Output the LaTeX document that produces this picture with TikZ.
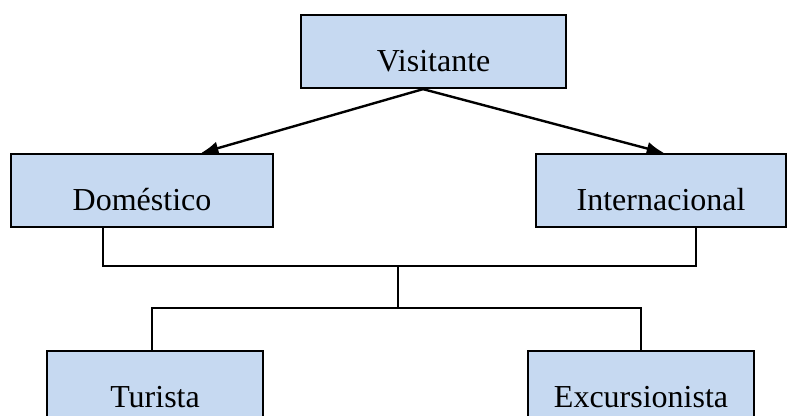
\documentclass[tikz,border=0pt]{standalone}
\usepackage{fontspec}
\setmainfont{Liberation Serif}
\usepackage{tikz}
\usetikzlibrary{positioning,arrows.meta}

\begin{document}
\begin{tikzpicture}[x=0.75pt, y=-0.75pt,
				squarenode/.style={rectangle, draw=black, fill=blueA, line width=1.6pt, inner sep=0pt, anchor=north west, text height=42pt, text depth=12.75pt, font=\fontsize{24}{28}\selectfont},
				link/.style={line width=1.1pt},
				arrowlink/.style={line width=1.8pt, -{Latex[length=13pt, width=10pt]}},
				]
				\definecolor{blueA}{HTML}{C6D9F1}
				\useasboundingbox (0,0) rectangle (788,416);

				%Nodes
				\node[squarenode, minimum width=198.75pt]	(vis)	at (300,14)		{Visitante};
				\node[squarenode, minimum width=196.5pt]	(dom)	at (10,153)		{Doméstico};
				\node[squarenode, minimum width=187.5pt]	(inter)	at (535,153)	{Internacional};
				\node[squarenode, minimum width=162pt]		(tur)	at (46,350)		{Turista};
				\node[squarenode, minimum width=169.5pt]	(exc)	at (527,350)	{Excursionista};

				\coordinate (join)	at (398,266);
				\coordinate (split)	at (398,308);

				%Lines
				\draw[arrowlink]	([xshift=-7.9pt]vis.south) -- ([xshift=44.25pt]dom.north);
				\draw[arrowlink]	([xshift=-7.9pt]vis.south) -- ([xshift=2.25pt]inter.north);
				\draw[link]	([xshift=-29.25pt]dom.south) |- (join) -| ([xshift=26.25pt]inter.south);
				\draw[link]	(join) -- (split);
				\draw[link]	([xshift=-2.25pt]tur.north) |- (split) -| (exc.north);
			\end{tikzpicture}
\end{document}
